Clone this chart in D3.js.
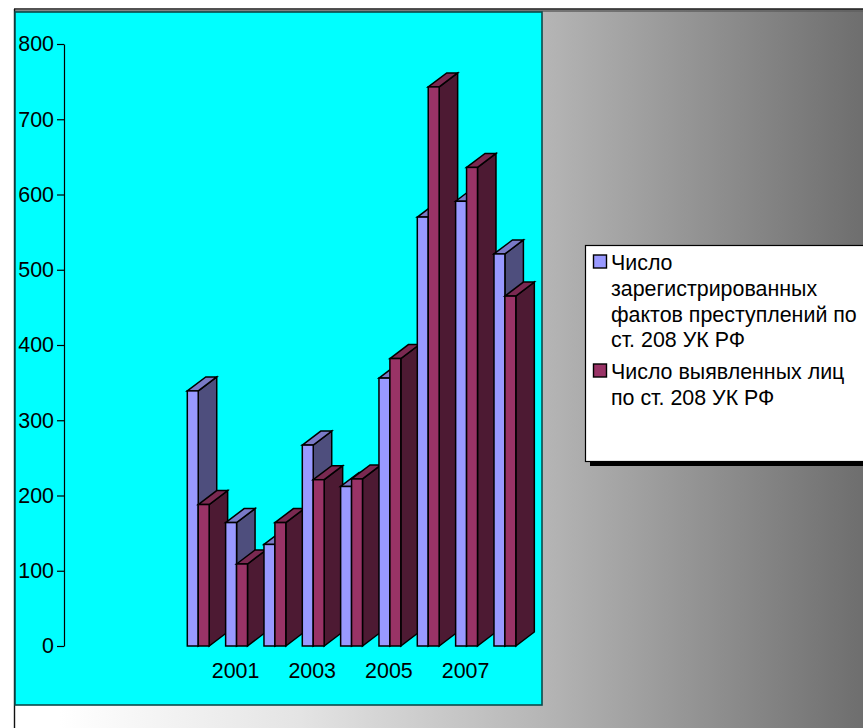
<!DOCTYPE html>
<html><head><meta charset="utf-8">
<script src="https://cdn.jsdelivr.net/npm/d3@7"></script>
<style>html,body{margin:0;padding:0;background:#fff;overflow:hidden}svg{display:block}text{font-family:"Liberation Sans",Arial,sans-serif;fill:#000}</style>
</head><body><div id="chart"></div>
<script>
const categories=["2000","2001","2002","2003","2004","2005","2006","2007","2008"];
const tickLabels=["2001","2003","2005","2007"];
const registered=[339,164,135,267,212,356,570,591,521];
const identified=[188,109,164,221,222,382,743,636,465];
const yTicks=[0,100,200,300,400,500,600,700,800];
const legendLines=[["Число","зарегистрированных","фактов преступлений по","ст. 208 УК РФ"],["Число выявленных лиц","по ст. 208 УК РФ"]];

const W=863,H=728;
const svg=d3.select("#chart").append("svg").attr("width",W).attr("height",H);
const defs=svg.append("defs");
const g=defs.append("linearGradient").attr("id","bg").attr("gradientUnits","userSpaceOnUse").attr("x1",0).attr("x2",863).attr("y1",0).attr("y2",0);
[[60,"#ffffff"],[300,"#e4e4e4"],[545,"#b5b5b5"],[863,"#6e6e6e"]].forEach(s=>g.append("stop").attr("offset",s[0]/863).attr("stop-color",s[1]));
svg.append("rect").attr("x",14).attr("y",9).attr("width",W).attr("height",H).attr("fill","url(#bg)");
svg.append("line").attr("x1",14).attr("x2",W).attr("y1",9).attr("y2",9).attr("stroke","#1a1a1a").attr("stroke-width",1.6);
svg.append("line").attr("x1",14).attr("x2",W).attr("y1",11).attr("y2",11).attr("stroke","#5f5f5f").attr("stroke-width",1.6);
svg.append("line").attr("x1",14.5).attr("x2",14.5).attr("y1",9).attr("y2",H).attr("stroke","#111").attr("stroke-width",1.4);
svg.append("rect").attr("x",15).attr("y",12).attr("width",527).attr("height",693).attr("fill","#00ffff").attr("stroke","#0c4a4a").attr("stroke-width",1.6);

const y=d3.scaleLinear().domain([0,800]).range([646,44]);
const x=d3.scaleBand().domain(categories).range([179.06,524.06]).paddingInner(0.43).paddingOuter(0.215);
const depthX=18.5,depthY=14;
const colors=[{front:"#9999ff",top:"#7a7ac6",side:"#4e4e7d"},{front:"#993366",top:"#7a2951",side:"#4d1a33"}];
const root=svg.append("g");

const axis=d3.axisLeft(y).tickValues(yTicks).tickSize(7).tickPadding(3).tickSizeOuter(0);
const ax=root.append("g").attr("transform","translate(64,0)").call(axis);
ax.selectAll("path,line").attr("stroke","#000").attr("stroke-width",1.2);
ax.selectAll("text").attr("font-size",21.4).style("font-family",'"Liberation Sans",Arial,sans-serif');

const xInner=d3.scaleBand().domain([0,1]).range([0,x.bandwidth()]);
const w=xInner.bandwidth();
const sw=1.5;
function bar(sel,x0,v,c){
  const y0=y(0),yt=y(v),x1=x0+w;
  sel.append("path").attr("d",d3.line()([[x1,yt],[x1+depthX,yt-depthY],[x1+depthX,y0-depthY],[x1,y0]])+"Z").attr("fill",c.side).attr("stroke","#000").attr("stroke-width",sw);
  sel.append("path").attr("d",d3.line()([[x0,yt],[x0+depthX,yt-depthY],[x1+depthX,yt-depthY],[x1,yt]])+"Z").attr("fill",c.top).attr("stroke","#000").attr("stroke-width",sw);
  sel.append("rect").attr("x",x0).attr("y",yt).attr("width",w).attr("height",y0-yt).attr("fill",c.front).attr("stroke","#000").attr("stroke-width",sw);
}
const bars=root.append("g");
categories.forEach((cat,i)=>{
  bar(bars.append("g"),x(cat)+xInner(0),registered[i],colors[0]);
  bar(bars.append("g"),x(cat)+xInner(1),identified[i],colors[1]);
});
root.append("g").selectAll("text").data(tickLabels).join("text")
  .attr("x",d=>x(d)+x.bandwidth()/2-1).attr("y",678).attr("text-anchor","middle").attr("font-size",21.4).text(d=>d);

const lg=svg.append("g");
lg.append("rect").attr("x",590).attr("y",250).attr("width",280).attr("height",216).attr("fill","#000");
lg.append("rect").attr("x",585.5).attr("y",245.5).attr("width",285).attr("height",216).attr("fill","#fff").attr("stroke","#000").attr("stroke-width",1.2);
const swatchY=[255,364],firstBase=[270,379],lineH=[25.8,25.8];
legendLines.forEach((lines,i)=>{
  lg.append("rect").attr("x",593.5).attr("y",swatchY[i]).attr("width",13).attr("height",13).attr("fill",colors[i].front).attr("stroke","#000").attr("stroke-width",1.4);
  lg.append("g").selectAll("text").data(lines).join("text").attr("x",611).attr("y",(d,k)=>firstBase[i]+k*lineH[i]).attr("font-size",21.4).text(d=>d);
});
</script></body></html>
